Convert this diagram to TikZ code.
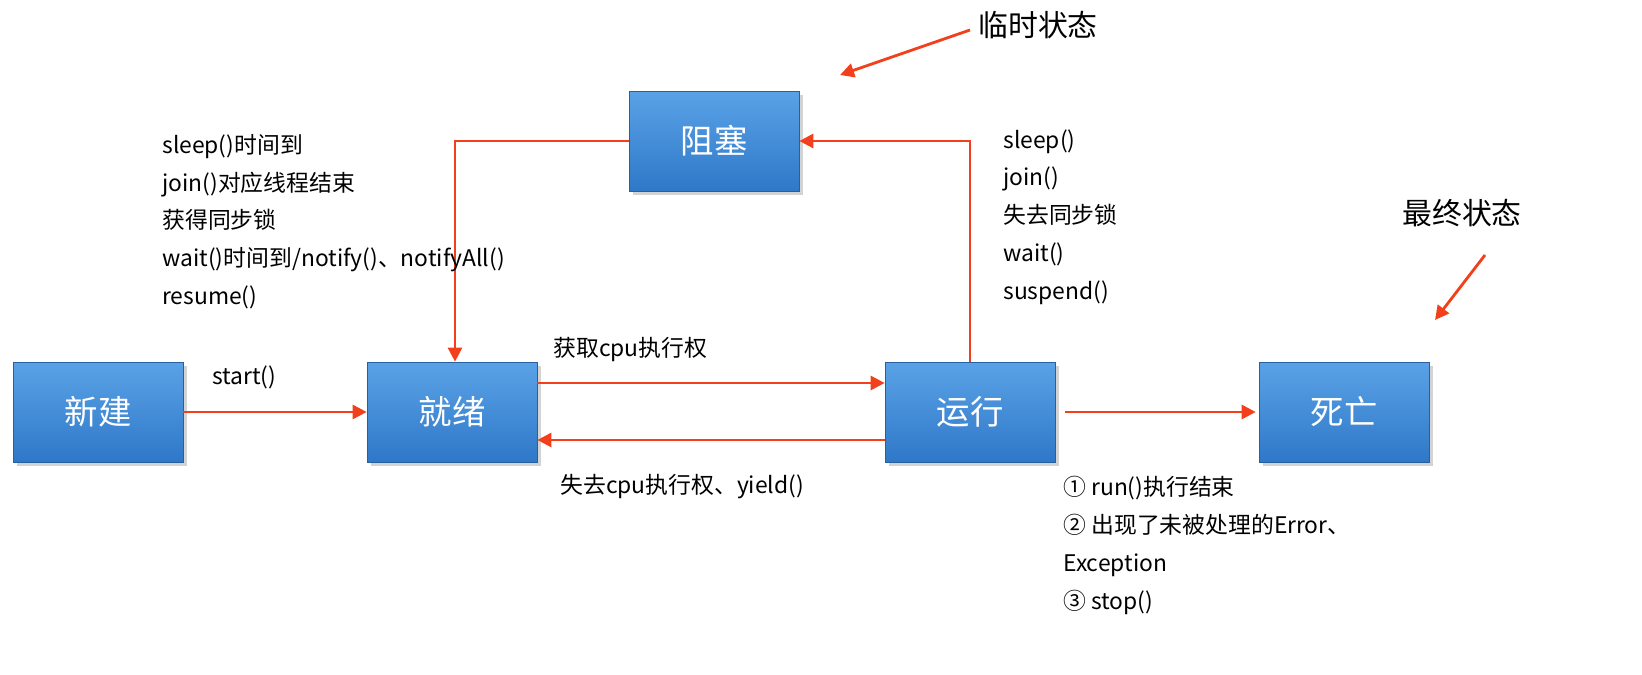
\documentclass[tikz,border=0pt]{standalone}
\usepackage{fontspec}
\setmainfont{Noto Sans CJK SC}
\usetikzlibrary{arrows.meta,shadows}
\definecolor{arrred}{HTML}{F2401C}
\definecolor{boxtop}{HTML}{5AA2E6}
\definecolor{boxbot}{HTML}{2F78C8}
\tikzset{
  state/.style={draw=boxbot!80!black, top color=boxtop, bottom color=boxbot, text=white,
    minimum width=3.4cm, minimum height=2cm, font=\fontsize{19}{23}\selectfont,
    drop shadow={shadow xshift=0.08cm, shadow yshift=-0.08cm, opacity=0.35}},
  redarr/.style={draw=arrred, line width=1.6pt, -{Triangle[length=8pt,width=8pt]}},
  lbl/.style={font=\fontsize{13}{16}\selectfont, inner sep=0pt},
  blocklbl/.style={lbl, align=left, anchor=north west, font=\fontsize{13}{21.5}\selectfont}
}
\begin{document}
\begin{tikzpicture}[x=0.02cm,y=0.02cm]
	% states
	\node [state] (new) at (98,-412) {新建};
	\node [state] (ready) at (452,-412) {就绪};
	\node [state] (run) at (970,-412) {运行};
	\node [state] (dead) at (1344,-412) {死亡};
	\node [state] (block) at (714,-141) {阻塞};
	% transitions
	\draw [redarr] (new) -- (ready);
	\draw [redarr] ([yshift=0.58cm]ready.east) -- ([yshift=0.58cm]run.west);
	\draw [redarr] ([yshift=-0.56cm]run.west) -- ([yshift=-0.56cm]ready.east);
	\draw [redarr] ([xshift=0.2cm]run.east) -- ([xshift=-0.06cm]dead.west);
	\draw [redarr] (block.west) -| ([xshift=0.06cm]ready.north);
	\draw [redarr] (run.north) |- (block.east);
	% notes
	\coordinate (tmpfrom) at (970,-30);
	\coordinate (tmpto) at (840,-75);
	\draw [redarr] (tmpfrom) -- (tmpto);
	\node [lbl, font=\fontsize{17}{20}\selectfont, anchor=west] (tmp) at (978,-25) {临时状态};
	\coordinate (endfrom) at (1485,-255);
	\coordinate (endto) at (1435,-320);
	\draw [redarr] (endfrom) -- (endto);
	\node [lbl, font=\fontsize{17}{20}\selectfont] (endlbl) at (1462,-213) {最终状态};
	% labels
	\node [lbl, anchor=west] (startlbl) at (212,-377) {start()};
	\node [lbl, anchor=west] (getcpu) at (553,-350) {获取cpu执行权};
	\node [lbl, anchor=west] (losecpu) at (560,-487) {失去cpu执行权、yield()};
	\node [blocklbl] (wake) at (162,-134) {sleep()时间到\\join()对应线程结束\\获得同步锁\\wait()时间到/notify()、notifyAll()\\resume()};
	\node [blocklbl] (sleep) at (1003,-129) {sleep()\\join()\\失去同步锁\\wait()\\suspend()};
	\node [blocklbl] (die) at (1063,-476) {① run()执行结束\\② 出现了未被处理的Error、\\Exception\\③ stop()};
	\pgfresetboundingbox
	\useasboundingbox (0,0) rectangle (1642,-675);
\end{tikzpicture}
\end{document}
